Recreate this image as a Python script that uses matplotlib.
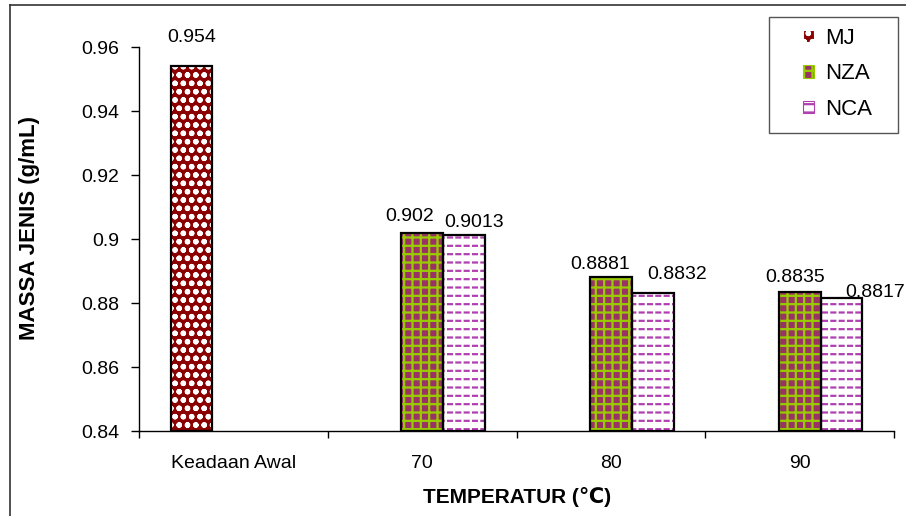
import numpy as np
import matplotlib
matplotlib.use('Agg')
import matplotlib.pyplot as plt
from matplotlib.lines import Line2D
from matplotlib.patches import Rectangle

# data
categories = ['Keadaan Awal', '70', '80', '90']
mj = [0.954, np.nan, np.nan, np.nan]
nza = [np.nan, 0.902, 0.8881, 0.8835]
nca = [np.nan, 0.9013, 0.8832, 0.8817]
series_names = ['MJ', 'NZA', 'NCA']
yticks = [0.84, 0.86, 0.88, 0.90, 0.92, 0.94, 0.96]

# label nudges (pixels): dx, gap above bar
mj_off = [(0, 20), None, None, None]
nza_off = [None, (-12, 8), (-11, 4), (-5, 6)]
nca_off = [None, (10, 4), (24, 10), (34, -3)]

plt.rcParams['font.family'] = ['Liberation Sans', 'DejaVu Sans']
plt.rcParams['hatch.linewidth'] = 1.6

W, H = 906, 516
fig = plt.figure(figsize=(W / 100, H / 100), dpi=100)
ax = fig.add_axes([139 / W, 1 - 431 / H, 755 / W, 384 / H])

x = np.arange(len(categories))
bw = 0.222
styles = [
    dict(face='#8B0000', hatch='oo', hcol='white'),
    dict(face='#993366', hatch='++', hcol='#99CC00'),
    dict(face='white', hatch='--', hcol='#B040B0'),
]
handles = []
for i, (vals, st, offs) in enumerate(zip([mj, nza, nca], styles, [mj_off, nza_off, nca_off])):
    pos = x + (i - 1) * bw
    vals = np.array(vals, dtype=float)
    b = ax.bar(pos, vals - 0.84, bw, bottom=0.84, color=st['face'], hatch=st['hatch'],
               edgecolor=st['hcol'], linewidth=0, zorder=2, label=series_names[i])
    if series_names[i] == 'NCA':
        # break the lines into short dashes
        ax.bar(pos, vals - 0.84, bw, bottom=0.84, fill=False, hatch='||',
               edgecolor='white', linewidth=0, zorder=2.5)
    ax.bar(pos, vals - 0.84, bw, bottom=0.84, fill=False, edgecolor='black',
           linewidth=1.6, zorder=3)
    handles.append(b)
    for p, v, o in zip(pos, vals, offs):
        if np.isnan(v):
            continue
        ax.annotate(f'{v:g}', (p, v), xytext=(o[0], o[1]), textcoords='offset pixels',
                    ha='center', va='bottom', fontsize=14, zorder=4)

ax.set_xlim(-0.5, len(categories) - 0.5)
ax.set_ylim(0.84, 0.96)
ax.set_yticks(yticks)
ax.set_yticklabels([f'{v:g}' for v in yticks])
ax.set_xticks(x)
ax.set_xticklabels(categories)
ax.set_xticks(np.arange(len(categories) + 1) - 0.5, minor=True)
ax.tick_params(axis='x', which='major', length=0, pad=17, labelsize=14)
ax.tick_params(axis='x', which='minor', length=5, width=1, direction='out')
ax.tick_params(axis='y', length=6, width=1, direction='out', pad=8, labelsize=14)
for s in ['top', 'right']:
    ax.spines[s].set_visible(False)
for s in ['left', 'bottom']:
    ax.spines[s].set_linewidth(1)

fig.text(30 / W, 1 - 228 / H, 'MASSA JENIS (g/mL)', rotation=90, ha='center', va='center',
         fontsize=16, fontweight='bold')
fig.text(517 / W, 1 - 497 / H, 'TEMPERATUR (\u2103)', ha='center', va='center',
         fontsize=15, fontweight='bold')

leg = fig.legend(handles=handles, loc='upper left', bbox_to_anchor=(803 / W, 1 - 28 / H),
                 fontsize=16, frameon=False, handlelength=0.5, handleheight=0.5,
                 handletextpad=0.5, labelspacing=0.65, borderpad=0, borderaxespad=0)
for hp in leg.legend_handles:
    hp.set_linewidth(0.8)
fig.add_artist(Rectangle((769 / W, 1 - 133 / H), 129 / W, 116 / H, transform=fig.transFigure,
                         fill=False, edgecolor='#555555', lw=1))

# outer chart border
fig.add_artist(Line2D([10 / W, 10 / W], [0, 1 - 5 / H], color='#333333', lw=1.2))
fig.add_artist(Line2D([10 / W, 1], [1 - 5 / H, 1 - 5 / H], color='#333333', lw=1.2))

plt.savefig('out.png', dpi=100)
